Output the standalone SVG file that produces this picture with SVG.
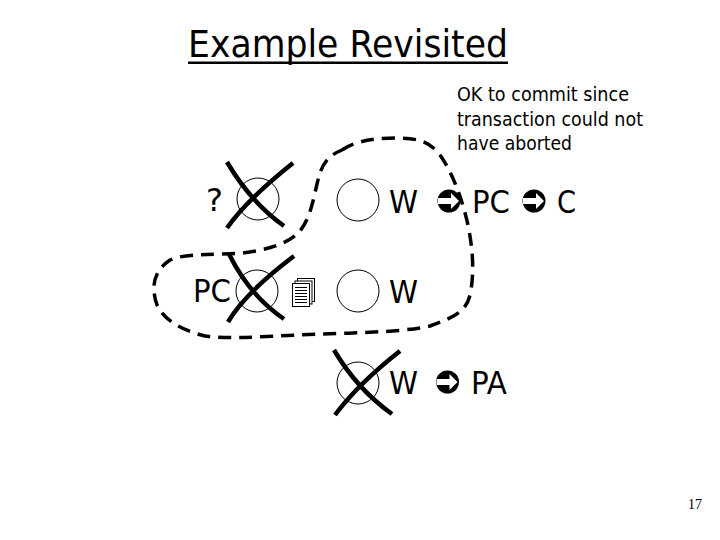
<svg xmlns="http://www.w3.org/2000/svg" width="720" height="540" viewBox="0 0 720 540">
<style>
text{font-family:"DejaVu Sans","Liberation Sans",sans-serif;fill:#000}
.b{font-size:32px}
.n{font-size:20px}
.c{fill:#fff;stroke:#000;stroke-width:1}
.x{fill:none;stroke:#000;stroke-width:4.5;stroke-linecap:butt}
.pg{fill:#fff;stroke:#000;stroke-width:1}
.ln{stroke:#000;stroke-width:1}
</style>
<defs>
<g id="arrow">
<circle cx="0" cy="0" r="11.500" fill="#000"/>
<path d="M-11 -3H2V-8L10 0L2 8V3H-11Z" fill="#fff"/>
</g>
</defs>
<rect width="720" height="540" fill="#fff"/>
<g id="title">
<text x="188" y="57" font-size="37" textLength="320" lengthAdjust="spacingAndGlyphs">Example Revisited</text>
<rect x="188" y="61.500" width="320" height="2.500" fill="#000"/>
</g>
<g id="note">
<text class="n" x="457" y="101" textLength="172" lengthAdjust="spacingAndGlyphs">OK to commit since</text>
<text class="n" x="457" y="126" textLength="186" lengthAdjust="spacingAndGlyphs">transaction could not</text>
<text class="n" x="457" y="150" textLength="115" lengthAdjust="spacingAndGlyphs">have aborted</text>
</g>
<g id="node-q">
<circle class="c" cx="258" cy="199" r="21"/>
<text class="b" x="206" y="211">?</text>
<path class="x" d="M227 162Q250.500 202 284 226M293 163Q246 200.500 227 228"/>
</g>
<g id="node-w1">
<circle class="c" cx="358" cy="200" r="21"/>
<text class="b" x="389" y="213" textLength="29" lengthAdjust="spacingAndGlyphs">W</text>
</g>
<g id="node-pc">
<circle class="c" cx="257" cy="291" r="21"/>
<text class="b" x="193" y="302" textLength="38" lengthAdjust="spacingAndGlyphs">PC</text>
<path class="x" d="M229 254Q249.500 295.500 284 319M294 256Q245 293 228 322"/>
</g>
<g id="log">
<rect class="pg" x="297.500" y="278.500" width="17" height="23"/>
<rect class="pg" x="295" y="281" width="17" height="23"/>
<rect class="pg" x="292.500" y="283.500" width="17" height="23"/>
<path class="ln" d="M295 287.500H307M295 290.500H307M295 293.500H307M295 296.500H307M295 299.500H307M295 302.500H307"/>
</g>
<g id="node-w2">
<circle class="c" cx="358" cy="291" r="21"/>
<text class="b" x="389" y="303" textLength="29" lengthAdjust="spacingAndGlyphs">W</text>
</g>
<g id="node-w3">
<circle class="c" cx="358" cy="383" r="21"/>
<text class="b" x="389" y="394" textLength="29" lengthAdjust="spacingAndGlyphs">W</text>
<path class="x" d="M334 350Q357 389 392 414M400 351Q358 384 335 415"/>
</g>
<g id="state-pc">
<use href="#arrow" x="449" y="201"/>
<text class="b" x="472" y="213" textLength="38" lengthAdjust="spacingAndGlyphs">PC</text>
<use href="#arrow" x="534" y="201"/>
<text class="b" x="557" y="213" textLength="19" lengthAdjust="spacingAndGlyphs">C</text>
</g>
<g id="state-pa">
<use href="#arrow" x="447.500" y="382"/>
<text class="b" x="471" y="394" textLength="36" lengthAdjust="spacingAndGlyphs">PA</text>
</g>
<g id="connectors">
<path d="M342 150C352 143 370 138 395 138C420 138 430 142 440 155C452 172 462 198 468 225C473 250 474 270 471 290C468 310 458 316 430 326C400 333 340 333 297 335C260 337 225 339 205 336C185 331 165 322 157 305C150 285 155 270 170 260C185 253 215 255 243 253C265 250 285 245 297 234C310 222 313 200 318 180C322 162 330 155 342 150" fill="none" stroke="#000" stroke-width="3.500" stroke-dasharray="13 8"/>
</g>
<g id="page">
<text x="688" y="509" font-size="14" style="font-family:'Liberation Serif',serif">17</text>
</g>
</svg>
